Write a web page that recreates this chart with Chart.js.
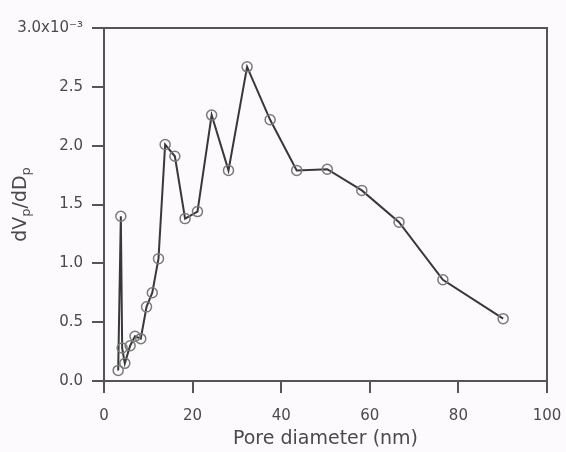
<!DOCTYPE html>
<html>
<head>
<meta charset="utf-8">
<script src="https://cdn.jsdelivr.net/npm/chart.js@4"></script>
<style>
  html, body { margin: 0; padding: 0; background: #fcfafc; }
  #wrap { width: 566px; height: 452px; }
</style>
</head>
<body>
<div id="wrap"><canvas id="poreChart" width="566" height="452"></canvas></div>
<script>
// Pore size distribution, values in units of 10^-3
const poreDiameter = [3.2, 3.8, 4.1, 4.7, 5.9, 7.0, 8.3, 9.6, 10.9, 12.3, 13.8, 16.0,
  18.3, 21.1, 24.3, 28.1, 32.3, 37.5, 43.5, 50.4, 58.2, 66.6, 76.5, 90.1];
const dVdD = [0.09, 1.40, 0.28, 0.15, 0.30, 0.38, 0.36, 0.63, 0.75, 1.04, 2.01, 1.91,
  1.38, 1.44, 2.26, 1.79, 2.67, 2.22, 1.79, 1.80, 1.62, 1.35, 0.86, 0.53];
const xTicks = [0, 20, 40, 60, 80, 100];
const yTicks = [0, 0.5, 1.0, 1.5, 2.0, 2.5, 3.0];

const axisColor = '#555';
const textColor = '#4a4a4a';

// top + right frame lines, and the y title with subscripts
const framePlugin = {
    id: 'frame',
    afterDraw(chart) {
        const { ctx, chartArea: a } = chart;
        ctx.save();
        ctx.strokeStyle = axisColor;
        ctx.lineWidth = 2;
        ctx.beginPath();
        ctx.moveTo(a.left - 1, a.top);
        ctx.lineTo(a.right, a.top);
        ctx.lineTo(a.right, a.bottom);
        ctx.stroke();

        // y axis title: dV_p/dD_p
        const parts = [['dV', false], ['p', true], ['/dD', false], ['p', true]];
        const mainFont = '19px "DejaVu Sans"';
        const subFont = '13px "DejaVu Sans"';
        let total = 0;
        parts.forEach(([t, sub]) => { ctx.font = sub ? subFont : mainFont; total += ctx.measureText(t).width; });
        ctx.translate(21, (a.top + a.bottom) / 2);
        ctx.rotate(-Math.PI / 2);
        ctx.fillStyle = textColor;
        ctx.textBaseline = 'middle';
        ctx.textAlign = 'left';
        let x = -total / 2;
        parts.forEach(([t, sub]) => {
            ctx.font = sub ? subFont : mainFont;
            ctx.fillText(t, x, sub ? 6 : 0);
            x += ctx.measureText(t).width;
        });
        ctx.restore();
    }
};

const ctx = document.getElementById('poreChart').getContext('2d');
new Chart(ctx, {
    type: 'line',
    data: {
        datasets: [{
            data: poreDiameter.map((d, i) => ({ x: d, y: dVdD[i] })),
            borderColor: '#383838',
            borderWidth: 2,
            pointStyle: 'circle',
            pointRadius: 5,
            pointBorderColor: '#7a7a7a',
            pointBorderWidth: 1.5,
            pointBackgroundColor: 'rgba(0,0,0,0)',
            tension: 0
        }]
    },
    options: {
        responsive: false,
        animation: false,
        layout: { padding: { left: 0, top: 28, right: 19, bottom: 0 } },
        plugins: { legend: { display: false }, tooltip: { enabled: false } },
        scales: {
            x: {
                type: 'linear',
                min: 0, max: 100,
                afterBuildTicks: s => { s.ticks = xTicks.map(v => ({ value: v })); },
                afterFit: s => { s.height = 71; s.paddingLeft = 0; s.paddingRight = 0; },
                grid: { drawOnChartArea: false, color: axisColor, lineWidth: 2, tickLength: 12 },
                border: { color: axisColor, width: 2 },
                ticks: { color: textColor, font: { family: 'DejaVu Sans', size: 15 }, padding: 14, maxRotation: 0 },
                title: { display: true, text: 'Pore diameter (nm)', color: textColor,
                         font: { family: 'DejaVu Sans', size: 19 }, padding: { top: 0, bottom: 2 } }
            },
            y: {
                min: 0, max: 3.0,
                afterBuildTicks: s => { s.ticks = yTicks.map(v => ({ value: v })); },
                afterFit: s => { s.width = 104; },
                grid: { drawOnChartArea: false, color: axisColor, lineWidth: 2, tickLength: 12 },
                border: { color: axisColor, width: 2 },
                ticks: {
                    color: textColor, font: { family: 'DejaVu Sans', size: 15 }, padding: 9,
                    callback: v => v === 3 ? '3.0x10\u207B\u00B3' : v.toFixed(1)
                }
            }
        }
    },
    plugins: [framePlugin]
});
</script>
</body>
</html>
